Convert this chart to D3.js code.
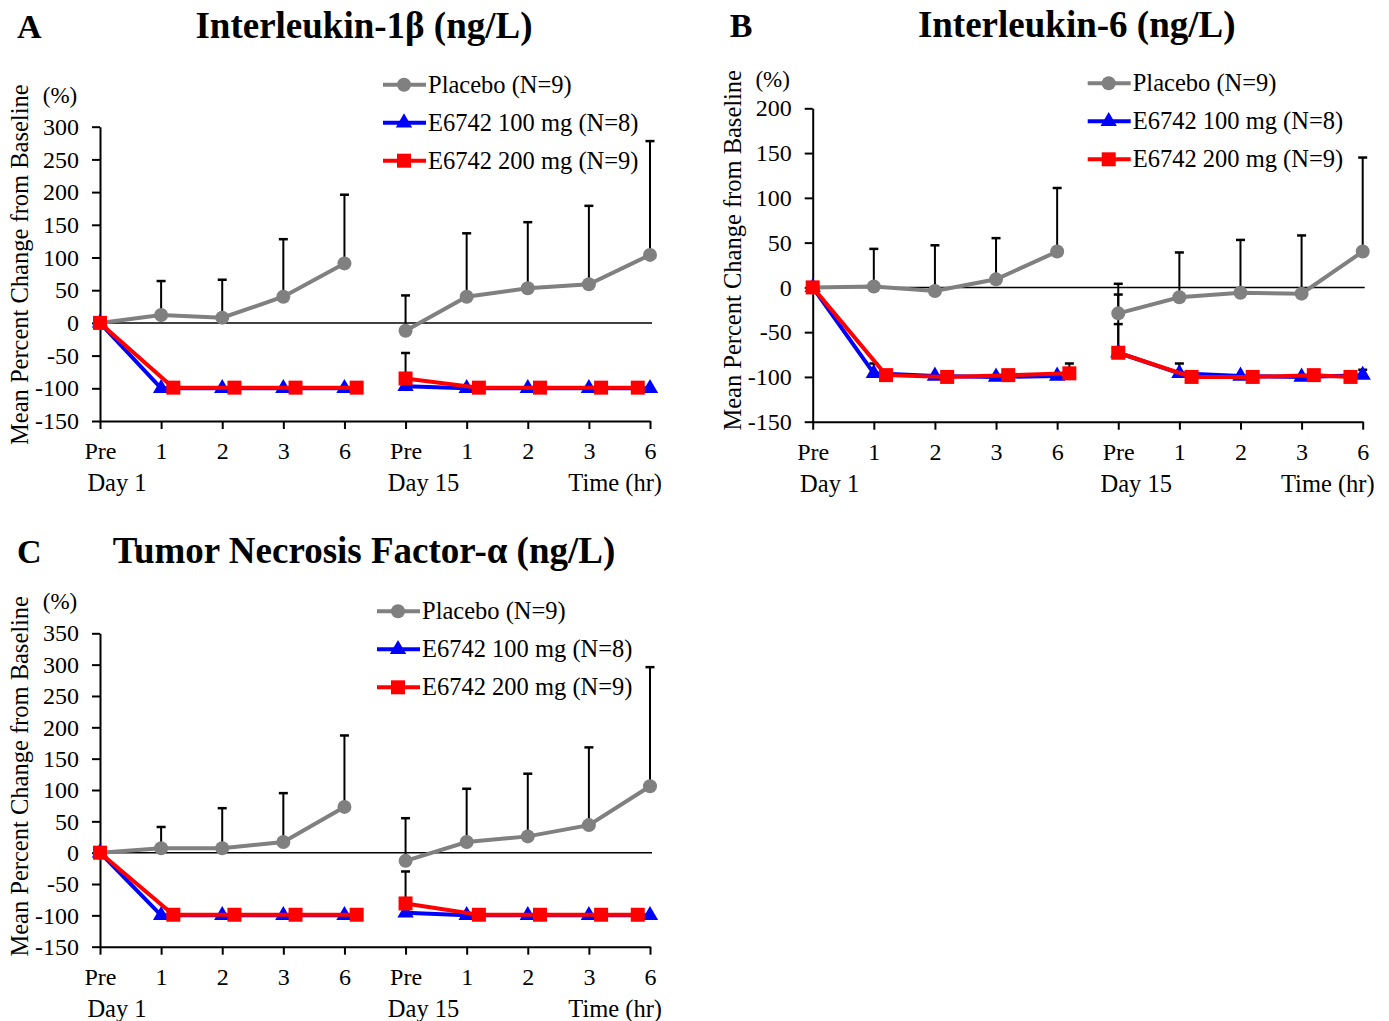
<!DOCTYPE html>
<html>
<head>
<meta charset="utf-8">
<script src="https://d3js.org/d3.v7.min.js"></script>
<style>
  body { margin: 0; background: #fff; }
  text { font-family: "Liberation Serif", "Times New Roman", serif; fill: #000; }
</style>
</head>
<body>
<div id="chartContainer"></div>
<script>
// categories (time points), two visits side by side
const timeLabels = ["Pre", "1", "2", "3", "6", "Pre", "1", "2", "3", "6"];
const timeIndex = [0, 1, 2, 3, 4, 5, 6, 7, 8, 9];
// the 200 mg series is plotted slightly shifted in the original
const redTime = [0, 1.2, 2.2, 3.2, 4.2, 5, 6.2, 7.2, 8.2, 8.8];

const seriesNames = ["Placebo (N=9)", "E6742 100 mg (N=8)", "E6742 200 mg (N=9)"];

// A: Interleukin-1b
const il1Placebo = [0, 12, 8, 40, 91, -12, 40, 53, 59, 104];
const il1PlaceboErr = [null, 64, 66, 128, 196, 42, 137, 154, 179, 278];
const il1Blue = [0, -100, -100, -100, -100, -97, -100, -100, -100, -100];
const il1BlueErr = [null, null, null, null, null, null, null, null, null, null];
const il1Red = [0, -99, -99, -99, -99, -85, -99, -99, -99, -99];
const il1RedErr = [null, null, null, null, null, -46, null, null, null, null];
const il1Ticks = [-150, -100, -50, 0, 50, 100, 150, 200, 250, 300];

// B: Interleukin-6
const il6Placebo = [0, 1, -4, 9, 40, -29, -11, -6, -7, 40];
const il6PlaceboErr = [null, 43, 47, 55, 111, 4, 39, 53, 58, 145];
const il6Blue = [0, -96, -99, -100, -99, -73, -96, -99, -100, -98];
const il6BlueErr = [null, -85, null, null, null, -8, -85, null, null, -92];
const il6Red = [0, -98, -100, -98, -96, -73, -100, -100, -98, -100];
const il6RedErr = [null, null, null, null, -85, -41, null, null, null, null];
const il6Ticks = [-150, -100, -50, 0, 50, 100, 150, 200];

// C: TNF-alpha
const tnfPlacebo = [0, 7, 7, 17, 73, -13, 17, 26, 44, 106];
const tnfPlaceboErr = [null, 41, 71, 95, 187, 55, 102, 126, 168, 296];
const tnfBlue = [0, -100, -100, -100, -100, -96, -100, -100, -100, -100];
const tnfBlueErr = [null, null, null, null, null, null, null, null, null, null];
const tnfRed = [0, -99, -99, -99, -99, -81, -99, -99, -99, -99];
const tnfRedErr = [null, null, null, null, null, -30, null, null, null, null];
const tnfTicks = [-150, -100, -50, 0, 50, 100, 150, 200, 250, 300, 350];

const svg = d3.select("#chartContainer")
  .append("svg")
  .attr("width", 1389)
  .attr("height", 1021);

svg.append("rect").attr("width", 1389).attr("height", 1021).attr("fill", "#fff");

function drawPanel(cfg) {
  const g = svg.append("g").attr("transform", `translate(${cfg.left}, ${cfg.top})`);
  const width = 550;
  const height = cfg.height;
  const ticks = cfg.ticks;

  const x = d3.scaleLinear().domain([0, 9]).range([0, width]);
  const y = d3.scaleLinear().domain([ticks[0], ticks[ticks.length - 1]]).range([height, 0]);

  // letter + title
  g.append("text")
    .attr("x", -83).attr("y", cfg.titleY)
    .attr("font-size", "34px").attr("font-weight", "bold")
    .text(cfg.letter);
  g.append("text")
    .attr("x", cfg.titleX).attr("y", cfg.titleY)
    .attr("text-anchor", "middle")
    .attr("font-size", "37px").attr("font-weight", "bold")
    .text(cfg.title);

  // y axis (plain hyphen for negatives, like the original)
  const yAxis = g.append("g")
    .call(d3.axisLeft(y).tickValues(ticks).tickFormat(d => String(d)).tickSize(8).tickSizeOuter(0).tickPadding(13));
  yAxis.select(".domain").attr("stroke", "#000").attr("stroke-width", 2);
  yAxis.selectAll(".tick line").attr("stroke-width", 2);
  yAxis.selectAll("text").attr("font-family", "Liberation Serif").attr("font-size", "24px");

  g.append("text")
    .attr("x", -40).attr("y", cfg.pctY)
    .attr("text-anchor", "middle")
    .attr("font-size", "23px")
    .text("(%)");

  g.append("text")
    .attr("transform", `translate(${-72}, ${cfg.ylabCenter}) rotate(-90)`)
    .attr("text-anchor", "middle")
    .attr("font-size", "24.5px")
    .text("Mean Percent Change from Baseline");

  // x axis at bottom
  const xAxis = g.append("g")
    .attr("transform", `translate(0, ${height})`)
    .call(d3.axisBottom(x).tickValues(timeIndex).tickFormat((d, i) => timeLabels[i]).tickSize(8).tickSizeOuter(0).tickPadding(13));
  xAxis.select(".domain").attr("stroke", "#000").attr("stroke-width", 2);
  xAxis.selectAll(".tick line").attr("stroke-width", 2);
  xAxis.selectAll("text").attr("font-family", "Liberation Serif").attr("font-size", "24px");

  g.append("text").attr("x", x(0) + 17).attr("y", height + 70)
    .attr("text-anchor", "middle").attr("font-size", "24.5px").text("Day 1");
  g.append("text").attr("x", x(5) + 18).attr("y", height + 70)
    .attr("text-anchor", "middle").attr("font-size", "24.5px").text("Day 15");
  g.append("text").attr("x", x(9) + 12).attr("y", height + 70)
    .attr("text-anchor", "end").attr("font-size", "24.5px").text("Time (hr)");

  // zero line
  g.append("line")
    .attr("x1", 0).attr("x2", width + 2)
    .attr("y1", y(0)).attr("y2", y(0))
    .attr("stroke", "#000").attr("stroke-width", 1.5);

  const series = [
    { name: seriesNames[0], vals: cfg.placebo, err: cfg.placeboErr, xs: timeIndex, color: "#808080", shape: "circle" },
    { name: seriesNames[1], vals: cfg.blue, err: cfg.blueErr, xs: timeIndex, color: "#0000ff", shape: "triangle" },
    { name: seriesNames[2], vals: cfg.red, err: cfg.redErr, xs: redTime, color: "#ff0000", shape: "square" }
  ];

  // error bars (upper only)
  series.forEach(s => {
    const pts = s.vals.map((v, i) => ({ x: s.xs[i], v: v, e: s.err[i] })).filter(d => d.e != null);
    const eb = g.append("g");
    eb.selectAll(".stem").data(pts).enter().append("line")
      .attr("x1", d => x(d.x)).attr("x2", d => x(d.x))
      .attr("y1", d => y(d.v)).attr("y2", d => y(d.e))
      .attr("stroke", "#000").attr("stroke-width", 2);
    eb.selectAll(".cap").data(pts).enter().append("line")
      .attr("x1", d => x(d.x) - 4.5).attr("x2", d => x(d.x) + 4.5)
      .attr("y1", d => y(d.e)).attr("y2", d => y(d.e))
      .attr("stroke", "#000").attr("stroke-width", 2.5);
  });

  const line = d3.line().x(d => x(d.x)).y(d => y(d.v));

  series.forEach(s => {
    const pts = s.vals.map((v, i) => ({ x: s.xs[i], v: v }));
    [pts.slice(0, 5), pts.slice(5)].forEach(seg => {
      g.append("path")
        .attr("d", line(seg))
        .attr("fill", "none")
        .attr("stroke", s.color)
        .attr("stroke-width", 4);
    });
    drawMarkers(g, pts.map(d => [x(d.x), y(d.v)]), s.shape, s.color);
  });

  // legend
  const leg = g.append("g").attr("transform", `translate(${cfg.legX}, ${cfg.legY})`);
  series.forEach((s, i) => {
    const row = leg.append("g").attr("transform", `translate(0, ${i * 38})`);
    row.append("line").attr("x1", 0).attr("x2", 43).attr("y1", 0).attr("y2", 0)
      .attr("stroke", s.color).attr("stroke-width", 4);
    drawMarkers(row, [[21, 0]], s.shape, s.color);
    row.append("text").attr("x", 45).attr("y", 0).attr("dy", "0.33em")
      .attr("font-size", "24.5px").text(s.name);
  });
}

function drawMarkers(g, pts, shape, color) {
  if (shape === "circle") {
    g.selectAll(null).data(pts).enter().append("circle")
      .attr("cx", d => d[0]).attr("cy", d => d[1]).attr("r", 7)
      .attr("fill", color);
  } else if (shape === "triangle") {
    const sym = d3.symbol().type(d3.symbolTriangle).size(115);
    g.selectAll(null).data(pts).enter().append("path")
      .attr("d", sym)
      .attr("transform", d => `translate(${d[0]}, ${d[1]})`)
      .attr("fill", color);
  } else {
    g.selectAll(null).data(pts).enter().append("rect")
      .attr("x", d => d[0] - 7).attr("y", d => d[1] - 7)
      .attr("width", 14).attr("height", 14)
      .attr("fill", color);
  }
}

drawPanel({
  left: 100, top: 126.7, height: 294.3, ticks: il1Ticks,
  letter: "A", title: "Interleukin-1β (ng/L)", titleX: 264, titleY: -89,
  pctY: -24, ylabCenter: 138,
  placebo: il1Placebo, placeboErr: il1PlaceboErr,
  blue: il1Blue, blueErr: il1BlueErr, red: il1Red, redErr: il1RedErr,
  legX: 283, legY: -42
});

drawPanel({
  left: 812.7, top: 108.3, height: 313.4, ticks: il6Ticks,
  letter: "B", title: "Interleukin-6 (ng/L)", titleX: 264, titleY: -71,
  pctY: -21, ylabCenter: 142,
  placebo: il6Placebo, placeboErr: il6PlaceboErr,
  blue: il6Blue, blueErr: il6BlueErr, red: il6Red, redErr: il6RedErr,
  legX: 275, legY: -25
});

drawPanel({
  left: 100, top: 633.3, height: 313.4, ticks: tnfTicks,
  letter: "C", title: "Tumor Necrosis Factor-α (ng/L)", titleX: 264, titleY: -70,
  pctY: -24, ylabCenter: 143,
  placebo: tnfPlacebo, placeboErr: tnfPlaceboErr,
  blue: tnfBlue, blueErr: tnfBlueErr, red: tnfRed, redErr: tnfRedErr,
  legX: 277, legY: -22
});
</script>
</body>
</html>
